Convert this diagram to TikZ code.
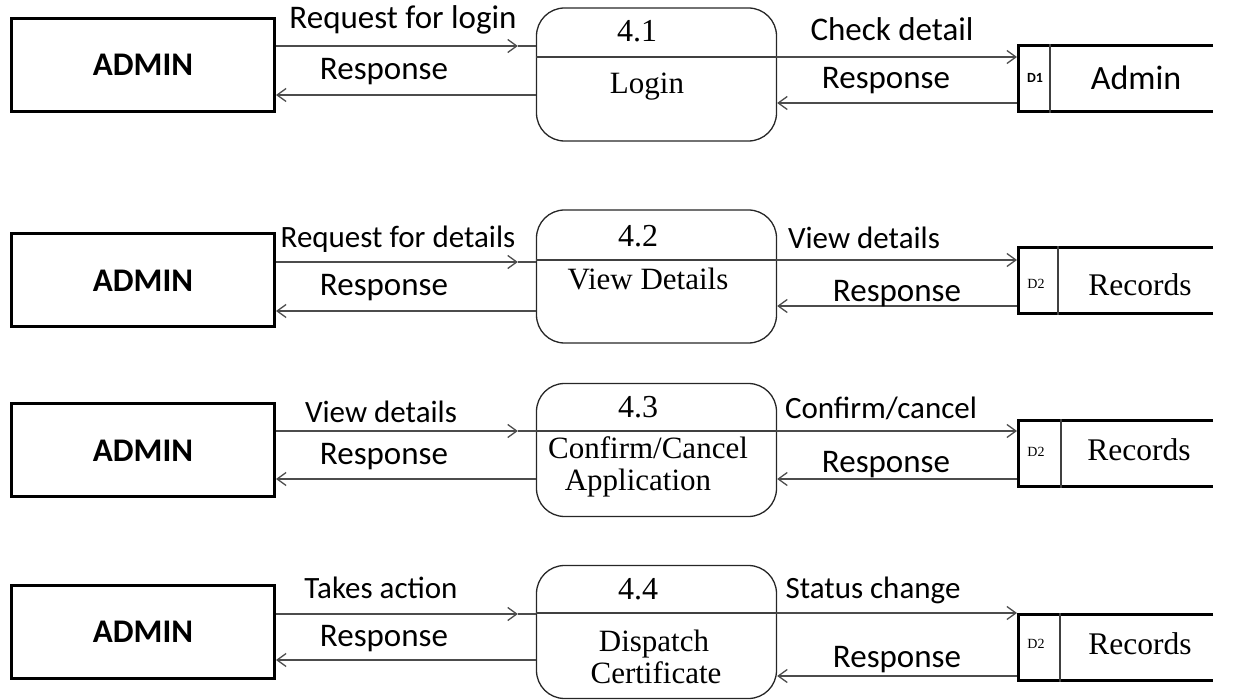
\documentclass[tikz,border=0pt]{standalone}
\usepackage{fontspec}
\setmainfont{Liberation Serif}
\newfontfamily\calfont{Carlito}
\usetikzlibrary{arrows.meta,calc}

\tikzset{
  entity/.style={draw, line width=3pt, minimum width=263, minimum height=93,
    inner sep=0pt, font=\calfont\bfseries\fontsize{33}{39}\selectfont},
  process/.style={draw=black!85, line width=1.3pt, rounded corners=28pt,
    minimum width=240, minimum height=133, inner sep=0pt},
  store/.style={minimum width=196, minimum height=69, inner sep=0pt, outer sep=0pt},
  storeline/.style={line width=3pt, line join=miter},
  flowlbl/.style={anchor=base, inner sep=0pt, font=\calfont\fontsize{33}{39}\selectfont},
  flowlblsm/.style={anchor=base, inner sep=0pt, font=\calfont\fontsize{31}{37}\selectfont},
  proclbl/.style={anchor=base, inner sep=0pt, font=\fontsize{31}{37}\selectfont},
  numlbl/.style={anchor=base, inner sep=0pt, font=\fontsize{32}{38}\selectfont},
  storelbl/.style={anchor=base, inner sep=0pt, font=\fontsize{31.5}{37}\selectfont},
  storelblsans/.style={anchor=base, inner sep=0pt, font=\calfont\fontsize{34}{40}\selectfont},
  idlbl/.style={anchor=base, inner sep=0pt, font=\fontsize{14}{16}\selectfont},
  idlblsans/.style={anchor=base, inner sep=0pt, font=\calfont\bfseries\fontsize{14}{16}\selectfont},
  flow/.style={draw=black!70, line width=1.3pt,
    -{Straight Barb[length=9pt,width=13pt,line width=1.3pt]}},
  plain/.style={draw=black!70, line width=1.3pt},
  divider/.style={draw=black!75, line width=1.3pt},
}

\begin{document}
\begin{tikzpicture}[x=1pt,y=-1pt]
\useasboundingbox (0,0) rectangle (1243,700);

% ---------- 4.1 Login ----------
\node[entity]  (a1) at (143,65) {ADMIN};
\node[process] (p1) at (656.5,74.5) {};
\node[store]   (s1) at (1115,78.5) {};
\node[numlbl]  (p1n) at (637,42) {4.1};
\node[proclbl] (p1t) at (647,94) {Login};
\draw[divider] (p1.west|-0,57) -- (p1.east|-0,57);
\draw[storeline] ([yshift=-1.5pt]s1.north east) -- ([xshift=1.5pt,yshift=-1.5pt]s1.north west)
  -- ([xshift=1.5pt,yshift=1.5pt]s1.south west) -- ([yshift=1.5pt]s1.south east);
\draw[divider] (s1.north west-|1050,0) -- (s1.south west-|1050,0);
\node[idlblsans] (s1i) at (1035,83) {D1};
\node[storelblsans] (s1t) at (1136,90) {Admin};

\coordinate (t1) at ($(p1.west|-0,46)+(-18,0)$);
\draw[flow]  (a1.east|-0,46) -- (t1);
\draw[plain] (t1) -- (p1.west|-0,46);
\draw[flow]  (p1.west|-0,95) -- (a1.east|-0,95);
\draw[flow]  (p1.east|-0,57) -- (s1.west|-0,57);
\draw[flow]  (s1.west|-0,103) -- (p1.east|-0,103);
\node[flowlbl] (f1a) at (403,29) {Request for login};
\node[flowlbl] (f1b) at (384,80) {Response};
\node[flowlbl] (f1c) at (892,41) {Check detail};
\node[flowlbl] (f1d) at (886,89) {Response};

% ---------- 4.2 View Details ----------
\node[entity]  (a2) at (143,280.5) {ADMIN};
\node[process] (p2) at (656.5,276.5) {};
\node[store]   (s2) at (1115,281) {};
\node[numlbl]  (p2n) at (638,247) {4.2};
\node[proclbl] (p2t) at (648,290) {View Details};
\draw[divider] (p2.west|-0,260) -- (p2.east|-0,260);
\draw[storeline] ([yshift=-1.5pt]s2.north east) -- ([xshift=1.5pt,yshift=-1.5pt]s2.north west)
  -- ([xshift=1.5pt,yshift=1.5pt]s2.south west) -- ([yshift=1.5pt]s2.south east);
\draw[divider] (s2.north west-|1058,0) -- (s2.south west-|1058,0);
\node[idlbl] (s2i) at (1036,289) {D2};
\node[storelbl] (s2t) at (1140,296) {Records};

\coordinate (t2) at ($(p2.west|-0,262)+(-18,0)$);
\draw[flow]  (a2.east|-0,262) -- (t2);
\draw[plain] (t2) -- (p2.west|-0,262);
\draw[flow]  (p2.west|-0,311) -- (a2.east|-0,311);
\draw[flow]  (p2.east|-0,260) -- (s2.west|-0,260);
\draw[flow]  (s2.west|-0,306) -- (p2.east|-0,306);
\node[flowlblsm] (f2a) at (398,248) {Request for details};
\node[flowlbl]   (f2b) at (384,296) {Response};
\node[flowlblsm] (f2c) at (864,249) {View details};
\node[flowlbl]   (f2d) at (897,302) {Response};

% ---------- 4.3 Confirm/Cancel Application ----------
\node[entity]  (a3) at (143,450.5) {ADMIN};
\node[process] (p3) at (656.5,450) {};
\node[store]   (s3) at (1115,454) {};
\node[numlbl]  (p3n) at (638,418) {4.3};
\node[proclbl] (p3t) at (648,459) {Confirm/Cancel};
\node[proclbl] (p3u) at (638,491) {Application};
\draw[divider] (p3.west|-0,431) -- (p3.east|-0,431);
\draw[storeline] ([yshift=-1.5pt]s3.north east) -- ([xshift=1.5pt,yshift=-1.5pt]s3.north west)
  -- ([xshift=1.5pt,yshift=1.5pt]s3.south west) -- ([yshift=1.5pt]s3.south east);
\draw[divider] (s3.north west-|1061,0) -- (s3.south west-|1061,0);
\node[idlbl] (s3i) at (1036,457) {D2};
\node[storelbl] (s3t) at (1139,461) {Records};

\coordinate (t3) at ($(p3.west|-0,431)+(-18,0)$);
\draw[flow]  (a3.east|-0,431) -- (t3);
\draw[plain] (t3) -- (p3.west|-0,431);
\draw[flow]  (p3.west|-0,479) -- (a3.east|-0,479);
\draw[flow]  (p3.east|-0,431) -- (s3.west|-0,431);
\draw[flow]  (s3.west|-0,479) -- (p3.east|-0,479);
\node[flowlblsm] (f3a) at (381,423) {View details};
\node[flowlbl]   (f3b) at (384,465) {Response};
\node[flowlblsm] (f3c) at (881,419) {Confirm/cancel};
\node[flowlbl]   (f3d) at (886,473) {Response};

% ---------- 4.4 Dispatch Certificate ----------
\node[entity]  (a4) at (143,632) {ADMIN};
\node[process] (p4) at (656.5,632) {};
\node[store]   (s4) at (1115,647.5) {};
\node[numlbl]  (p4n) at (638,599) {4.4};
\node[proclbl] (p4t) at (654,651) {Dispatch};
\node[proclbl] (p4u) at (656,683) {Certificate};
\draw[divider] (p4.west|-0,613) -- (p4.east|-0,613);
\draw[storeline] ([yshift=-1.5pt]s4.north east) -- ([xshift=1.5pt,yshift=-1.5pt]s4.north west)
  -- ([xshift=1.5pt,yshift=1.5pt]s4.south west) -- ([yshift=1.5pt]s4.south east);
\draw[divider] (s4.north west-|1060,0) -- (s4.south west-|1060,0);
\node[idlbl] (s4i) at (1036,648) {D2};
\node[storelbl] (s4t) at (1140,654) {Records};

\coordinate (t4) at ($(p4.west|-0,614)+(-18,0)$);
\draw[flow]  (a4.east|-0,614) -- (t4);
\draw[plain] (t4) -- (p4.west|-0,614);
\draw[flow]  (p4.west|-0,660) -- (a4.east|-0,660);
\draw[flow]  (p4.east|-0,613) -- (s4.west|-0,613);
\draw[flow]  (s4.west|-0,676) -- (p4.east|-0,676);
\node[flowlblsm] (f4a) at (381,598) {Takes action};
\node[flowlbl]   (f4b) at (384,646) {Response};
\node[flowlblsm] (f4c) at (873,598) {Status change};
\node[flowlbl]   (f4d) at (897,667) {Response};
\end{tikzpicture}
\end{document}
